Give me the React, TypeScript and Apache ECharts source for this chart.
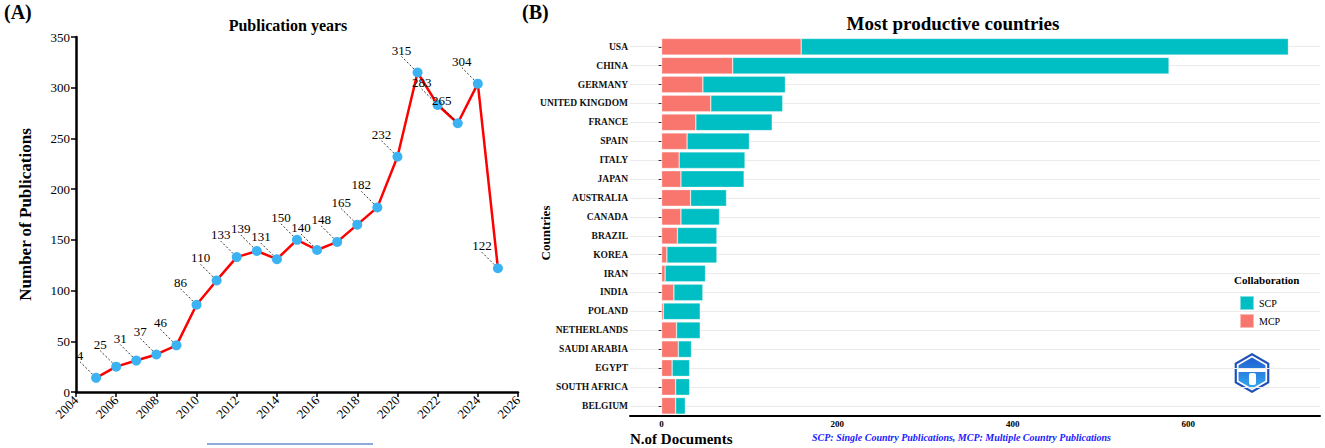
import React, { useEffect, useRef } from "react";
import * as echarts from "echarts";

const years = [2005, 2006, 2007, 2008, 2009, 2010, 2011, 2012, 2013, 2014, 2015, 2016, 2017, 2018, 2019, 2020, 2021, 2022, 2023, 2024, 2025];
const pubs = [14, 25, 31, 37, 46, 86, 110, 133, 139, 131, 150, 140, 148, 165, 182, 232, 315, 283, 265, 304, 122];
const pubLabels = ["4", "25", "31", "37", "46", "86", "110", "133", "139", "131", "150", "140", "148", "165", "182", "232", "315", "283", "265", "304", "122"];

const countries = ["USA", "CHINA", "GERMANY", "UNITED KINGDOM", "FRANCE", "SPAIN", "ITALY", "JAPAN", "AUSTRALIA", "CANADA", "BRAZIL", "KOREA", "IRAN", "INDIA", "POLAND", "NETHERLANDS", "SAUDI ARABIA", "EGYPT", "SOUTH AFRICA", "BELGIUM"];
const mcp = [159, 81, 47, 56, 39, 29, 20, 22, 33, 22, 18, 6, 4, 14, 2, 17, 19, 12, 16, 16];
const scp = [555, 497, 94, 82, 87, 71, 75, 72, 41, 44, 45, 57, 46, 33, 42, 27, 15, 20, 16, 11];
const docTicks = [0, 200, 400, 600];

const SERIF = "'Liberation Serif', 'Times New Roman', serif";

export default function App() {
  const ref = useRef<HTMLDivElement>(null);
  useEffect(() => {
    if (!ref.current) return;
    const chart = echarts.init(ref.current, null, { renderer: "svg" });
    const hex = (cx: number, cy: number, r: number) => {
      const pts: number[][] = [];
      for (let i = 0; i < 6; i++) {
        const a = (Math.PI / 3) * i - Math.PI / 2;
        pts.push([cx + r * Math.cos(a), cy + r * Math.sin(a)]);
      }
      return pts;
    };
    const option: any = {
      animation: false,
      textStyle: { fontFamily: SERIF },
      title: [
        { text: "Publication years", left: 283, top: 12, textAlign: "center", textStyle: { fontFamily: SERIF, fontSize: 16, fontWeight: "bold", color: "#000" } },
        { text: "Most productive countries", left: 948, top: 9, textAlign: "center", textStyle: { fontFamily: SERIF, fontSize: 19, fontWeight: "bold", color: "#000" } },
      ],
      legend: {
        left: 1234, top: 290, orient: "vertical", itemWidth: 14, itemHeight: 14, itemGap: 2,
        icon: "rect", data: ["SCP", "MCP"],
        textStyle: { fontFamily: SERIF, fontSize: 10, color: "#000" },
      },
      grid: [
        { left: 76, right: 807, top: 37, bottom: 56, containLabel: false },
        { left: 630, right: 5, top: 37.3, bottom: 32.7, containLabel: false },
      ],
      xAxis: [
        {
          gridIndex: 0, type: "value", min: 2004, max: 2026, interval: 2,
          axisLine: { show: true, lineStyle: { color: "#000", width: 2.5 } },
          axisTick: { show: true, length: 5, lineStyle: { color: "#000", width: 1.5 } },
          axisLabel: { rotate: 45, fontSize: 13, color: "#000", fontFamily: SERIF, margin: 6, formatter: (v: number) => String(v) },
          splitLine: { show: false },
        },
        {
          gridIndex: 1, type: "value", min: -36, max: 750,
          axisLine: { show: true, onZero: false, lineStyle: { color: "#000", width: 2 } },
          axisTick: { show: false },
          axisLabel: { customValues: docTicks, fontSize: 9, fontWeight: "bold", color: "#000", fontFamily: SERIF, margin: 4 },
          splitLine: { show: false },
        },
      ],
      yAxis: [
        {
          gridIndex: 0, type: "value", min: 0, max: 350, interval: 50,
          name: "Number of Publications", nameLocation: "middle", nameGap: 42,
          nameTextStyle: { fontFamily: SERIF, fontSize: 17, fontWeight: "bold", color: "#000" },
          axisLine: { show: true, lineStyle: { color: "#000", width: 2.5 } },
          axisTick: { show: true, length: 5, lineStyle: { color: "#000", width: 1.5 } },
          axisLabel: { fontSize: 13, color: "#000", fontFamily: SERIF, margin: 6 },
          splitLine: { show: false },
        },
        {
          gridIndex: 1, type: "category", data: countries, inverse: true,
          axisLine: { show: false },
          axisTick: { show: true, length: 3, alignWithLabel: true, lineStyle: { color: "#333", width: 1 } },
          axisLabel: { fontSize: 9.5, fontWeight: "bold", color: "#111", fontFamily: SERIF, margin: 2 },
          splitLine: { show: true, alignWithLabel: true, lineStyle: { color: "#ebebeb", width: 1.2 } },
        },
      ],
      series: [
        {
          type: "line", xAxisIndex: 0, yAxisIndex: 0,
          data: years.map((y, i) => [y, pubs[i]]),
          lineStyle: { color: "#ff0000", width: 2.5 },
          itemStyle: { color: "#3bb3f3" },
          symbol: "circle", symbolSize: 10,
          label: {
            show: true, position: "top", fontSize: 13, color: "#000", fontFamily: SERIF,
            formatter: (p: any) => pubLabels[p.dataIndex],
          },
          labelLayout: { dx: -16, dy: -6 },
          labelLine: { show: true, lineStyle: { color: "#000", width: 0.8, type: [2, 2] } },
          z: 3,
        },
        {
          name: "MCP", type: "bar", stack: "c", xAxisIndex: 1, yAxisIndex: 1,
          data: mcp, barWidth: "88%",
          itemStyle: { color: "#F8766D", borderColor: "rgba(255,255,255,0.5)", borderWidth: 0.6 },
        },
        {
          name: "SCP", type: "bar", stack: "c", xAxisIndex: 1, yAxisIndex: 1,
          data: scp, barWidth: "88%",
          itemStyle: { color: "#00BFC4", borderColor: "rgba(255,255,255,0.5)", borderWidth: 0.6 },
        },
      ],
      graphic: [
        { type: "text", left: 4, top: 2, style: { text: "(A)", fontFamily: SERIF, fontSize: 20, fontWeight: "bold", fill: "#000" } },
        { type: "text", left: 522, top: 2, style: { text: "(B)", fontFamily: SERIF, fontSize: 20, fontWeight: "bold", fill: "#000" } },
        { type: "text", x: 545, y: 233, rotation: Math.PI / 2, style: { text: "Countries", fontFamily: SERIF, fontSize: 13, fontWeight: "bold", fill: "#000", align: "center", verticalAlign: "middle" } },
        { type: "text", left: 630, top: 431, style: { text: "N.of Documents", fontFamily: SERIF, fontSize: 15, fontWeight: "bold", fill: "#000" } },
        { type: "text", left: 812, top: 432, style: { text: "SCP: Single Country Publications, MCP: Multiple Country Publications", fontFamily: SERIF, fontSize: 10, fontWeight: "bold", fontStyle: "italic", fill: "#1a1aff" } },
        { type: "text", left: 1234, top: 274, style: { text: "Collaboration", fontFamily: SERIF, fontSize: 11, fontWeight: "bold", fill: "#000" } },
        { type: "rect", shape: { x: 207, y: 443, width: 166, height: 2 }, style: { fill: "#8eaadb" } },
        { type: "polygon", shape: { points: hex(1252, 373, 20) }, style: { fill: "#1e4fb8" } },
        { type: "polygon", shape: { points: hex(1252, 373, 17.5) }, style: { fill: "#ffffff" } },
        {
          type: "polygon", shape: { points: hex(1252, 373, 15.5) },
          style: { fill: new echarts.graphic.LinearGradient(0, 0, 0, 1, [{ offset: 0, color: "#1f5fd0" }, { offset: 1, color: "#35a8f0" }]) },
        },
        { type: "rect", shape: { x: 1238, y: 368, width: 28, height: 4 }, style: { fill: "#ffffff" } },
        { type: "rect", shape: { x: 1249, y: 373, width: 7, height: 12, r: 2 }, style: { fill: "#ffffff" } },
      ],
    };
    chart.setOption(option);
    return () => chart.dispose();
  }, []);
  return <div ref={ref} style={{ width: 1325, height: 448, position: "absolute", left: 0, top: 0 }} />;
}
